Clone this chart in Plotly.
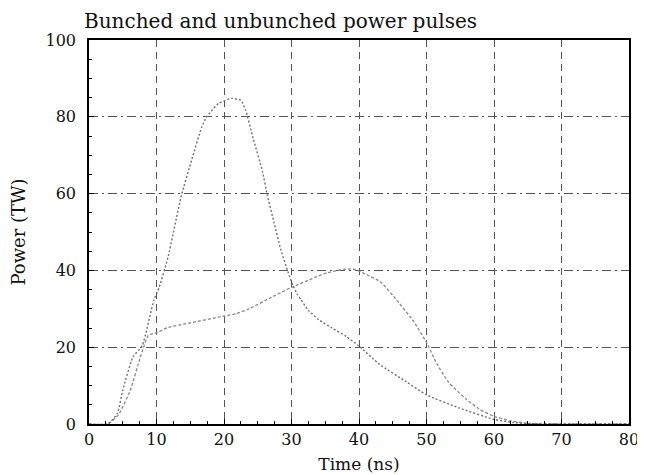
import plotly.graph_objects as go

# Bunched pulse (TW vs ns)
bunched_t = [0, 2.8, 4.2, 5.0, 6.5, 7.9, 9.6, 10.4, 11.7, 13.7, 15.2, 16.7, 17.4, 19.2,
             21.1, 22.5, 23.2, 24.3, 25.7, 26.4, 27.4, 28.4, 29.5, 30.2, 30.9, 31.4,
             32.5, 34.0, 36.0, 38.1, 40.0, 43.0, 47.0, 50.0, 54.8, 60.0, 62.8, 65.0, 70.0, 80.0]
bunched_p = [0, 0, 2.8, 8.8, 17.4, 20.5, 32.2, 35.6, 43.4, 59.6, 68.7, 77.3, 79.9, 83.5,
             84.8, 84.3, 81.8, 74.5, 65.8, 59.7, 52.6, 45.5, 39.5, 36.1, 33.7, 32.4,
             29.6, 27.2, 25.0, 22.8, 20.3, 15.6, 11.0, 7.6, 4.2, 1.2, 0.4, 0.1, 0, 0]

# Unbunched pulse (TW vs ns)
unbunched_t = [0, 2.8, 4.4, 6.1, 7.6, 8.8, 10.1, 11.6, 14.9, 19.7, 21.8, 23.7, 27.6, 29.9,
               33.4, 35.3, 37.8, 39.2, 40.5, 43.2, 45.7, 48.1, 50.2, 51.4, 53.3, 55.8,
               57.8, 60.0, 62.5, 65.0, 70.0, 80.0]
unbunched_p = [0, 0, 2.5, 8.7, 17.3, 23.1, 23.8, 25.1, 26.3, 28.0, 28.7, 30.0, 33.5, 35.5,
               38.1, 39.4, 40.3, 40.3, 39.4, 37.0, 32.0, 26.7, 20.6, 16.1, 10.8, 6.6,
               3.9, 2.0, 0.8, 0.2, 0.05, 0]

x_ticks = [0, 10, 20, 30, 40, 50, 60, 70, 80]
y_ticks = [0, 20, 40, 60, 80, 100]

serif = "DejaVu Serif"

# page body has an 8px margin, so the figure is 8px smaller to fill the window
W, H = 637, 467

fig = go.Figure()
fig.add_trace(go.Scatter(
    x=unbunched_t, y=unbunched_p, mode="lines", name="Unbunched",
    line=dict(color="#8a8a8a", width=1.3, dash="3px,2px", shape="spline", smoothing=0.5),
    showlegend=False))
fig.add_trace(go.Scatter(
    x=bunched_t, y=bunched_p, mode="lines", name="Bunched",
    line=dict(color="#707070", width=1.4, dash="2px,2px", shape="spline", smoothing=0.5),
    showlegend=False))

fig.update_layout(
    width=W, height=H,
    margin=dict(l=81, r=16, t=32, b=51),
    paper_bgcolor="white", plot_bgcolor="white",
    font=dict(family=serif, size=15, color="#111"),
    title=dict(text="Bunched and unbunched power pulses",
               font=dict(family=serif, size=20, color="#111"),
               x=76 / W, xanchor="left", xref="container",
               y=1 - 13 / H, yanchor="middle", yref="container"),
)

fig.update_xaxes(
    range=[0, 80], tickvals=x_ticks, ticktext=[str(v) for v in x_ticks],
    showline=True, linecolor="black", linewidth=2, mirror=True,
    ticks="inside", ticklen=5, tickcolor="black",
    minor=dict(dtick=2.5, ticks="inside", ticklen=3, tickcolor="black", showgrid=False),
    showgrid=True, gridcolor="#555", gridwidth=1, griddash="7px,5px",
    zeroline=False, automargin=False,
    tickfont=dict(family=serif, size=16, color="#111"),
    title=dict(text="Time (ns)", font=dict(family=serif, size=17, color="#111"), standoff=10),
)
fig.update_yaxes(
    range=[0, 100], tickvals=y_ticks, ticktext=[str(v) for v in y_ticks],
    showline=True, linecolor="black", linewidth=1.5, mirror=True,
    ticks="inside", ticklen=5, tickcolor="black",
    minor=dict(dtick=5, ticks="inside", ticklen=3, tickcolor="black", showgrid=False),
    showgrid=True, gridcolor="#555", gridwidth=1, griddash="9px,4px,2px,4px",
    zeroline=False, automargin=False,
    tickfont=dict(family=serif, size=16, color="#111"),
    ticklabelstandoff=8,
    title=dict(text="Power (TW)", font=dict(family=serif, size=18, color="#111"), standoff=16),
)

fig.write_html("out.html")
